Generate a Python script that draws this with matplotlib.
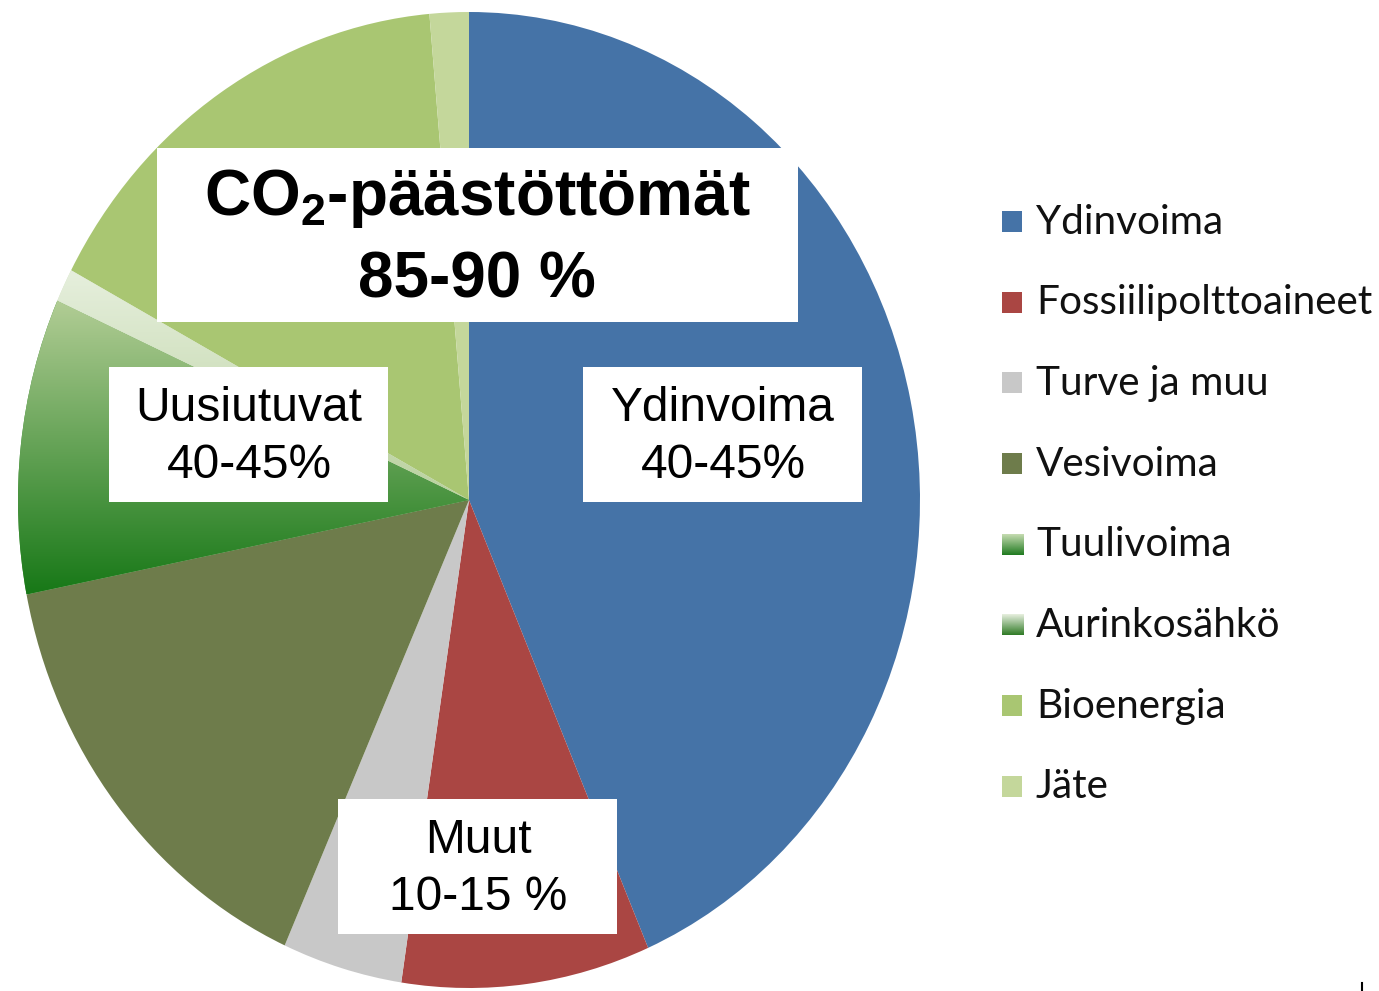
import numpy as np
import matplotlib.pyplot as plt
from matplotlib.colors import LinearSegmentedColormap
from matplotlib.patches import Rectangle

plt.rcParams['mathtext.fontset'] = 'custom'
plt.rcParams['mathtext.rm'] = 'Liberation Sans:bold'
plt.rcParams['mathtext.it'] = 'Liberation Sans:bold'
plt.rcParams['mathtext.bf'] = 'Liberation Sans:bold'

# data (% of electricity)
labels = ['Ydinvoima', 'Fossiilipolttoaineet', 'Turve ja muu', 'Vesivoima',
          'Tuulivoima', 'Aurinkosähkö', 'Bioenergia', 'Jäte']
shares = [43.5, 8.9, 4.3, 15.2, 9.8, 1.1, 15.8, 1.4]
colors = ['#4573a7', '#aa4643', '#c8c8c8', '#6e7c4b',
          '#3f8f35', '#d6e5c8', '#a9c672', '#c4d79b']
# light (top) -> dark (bottom)
gradients = {'Tuulivoima': ('#b2cd95', '#177817'),
             'Aurinkosähkö': ('#e6efdd', '#b9d19e')}
gradients_legend = {'Tuulivoima': ('#c6dcb2', '#1f7a1f'),
                    'Aurinkosähkö': ('#e8f0e0', '#2f7a25')}

box_title = ['CO$_2$-päästöttömät', '85-90 %']
box_labels = ['Ydinvoima\n40-45%', 'Uusiutuvat\n40-45%', 'Muut\n10-15 %']

W, H = 1379, 991
fig = plt.figure(figsize=(W / 100, H / 100), dpi=100)

# pie (slightly elliptical, as in the original)
ax = fig.add_axes([18 / W, 3 / H, 902 / W, 976 / H])
wedges, _ = ax.pie(shares, colors=colors, startangle=90, counterclock=False,
                   wedgeprops=dict(linewidth=0))
grad = np.linspace(0, 1, 256).reshape(-1, 1)
for w, lab in zip(wedges, labels):
    if lab in gradients:
        cmap = LinearSegmentedColormap.from_list(lab, list(gradients[lab]))
        bb = w.get_path().get_extents()
        im = ax.imshow(grad, cmap=cmap, origin='upper', aspect='auto',
                       extent=[bb.x0, bb.x1, bb.y0, bb.y1], zorder=w.get_zorder() + 0.1)
        im.set_clip_path(w)
ax.set_aspect('auto')
ax.set_xlim(-1, 1)
ax.set_ylim(-1, 1)
ax.axis('off')

# overlay in pixel coordinates for label boxes and legend
ov = fig.add_axes([0, 0, 1, 1])
ov.axis('off')

ov.add_patch(Rectangle((157, 148), 641, 174, facecolor='white', edgecolor='none'))
ov.text(477, 199, box_title[0], ha='center', va='center', fontsize=46,
        family='Liberation Sans', weight='bold')
ov.text(477, 280, box_title[1], ha='center', va='center', fontsize=46,
        family='Liberation Sans', weight='bold')

boxes = [(583, 367), (109, 367), (338, 799)]
for (x0, y0), txt in zip(boxes, box_labels):
    ov.add_patch(Rectangle((x0, y0), 279, 135, facecolor='white', edgecolor='none'))
    ov.text(x0 + 140, y0 + 70, txt, ha='center', va='center', fontsize=34.5,
            family='Liberation Sans', linespacing=1.36)

# legend
for i, (lab, col) in enumerate(zip(labels, colors)):
    y = 222 + i * 80.7
    if lab in gradients_legend:
        cmap = LinearSegmentedColormap.from_list(lab + 'L', list(gradients_legend[lab]))
        ov.imshow(grad, cmap=cmap, origin='upper', aspect='auto',
                  extent=[1002, 1024, y + 10, y - 11])
    else:
        ov.add_patch(Rectangle((1002, y - 11), 20, 21, facecolor=col, edgecolor='none'))
    ov.text(1036, y, lab, ha='left', va='center', fontsize=29.2,
            family='Lato', color='#111111')

ov.plot([1362, 1362], [983, 991], color='black', lw=1.5)

ov.set_xlim(0, W)
ov.set_ylim(H, 0)

fig.savefig('out.png', dpi=100)
